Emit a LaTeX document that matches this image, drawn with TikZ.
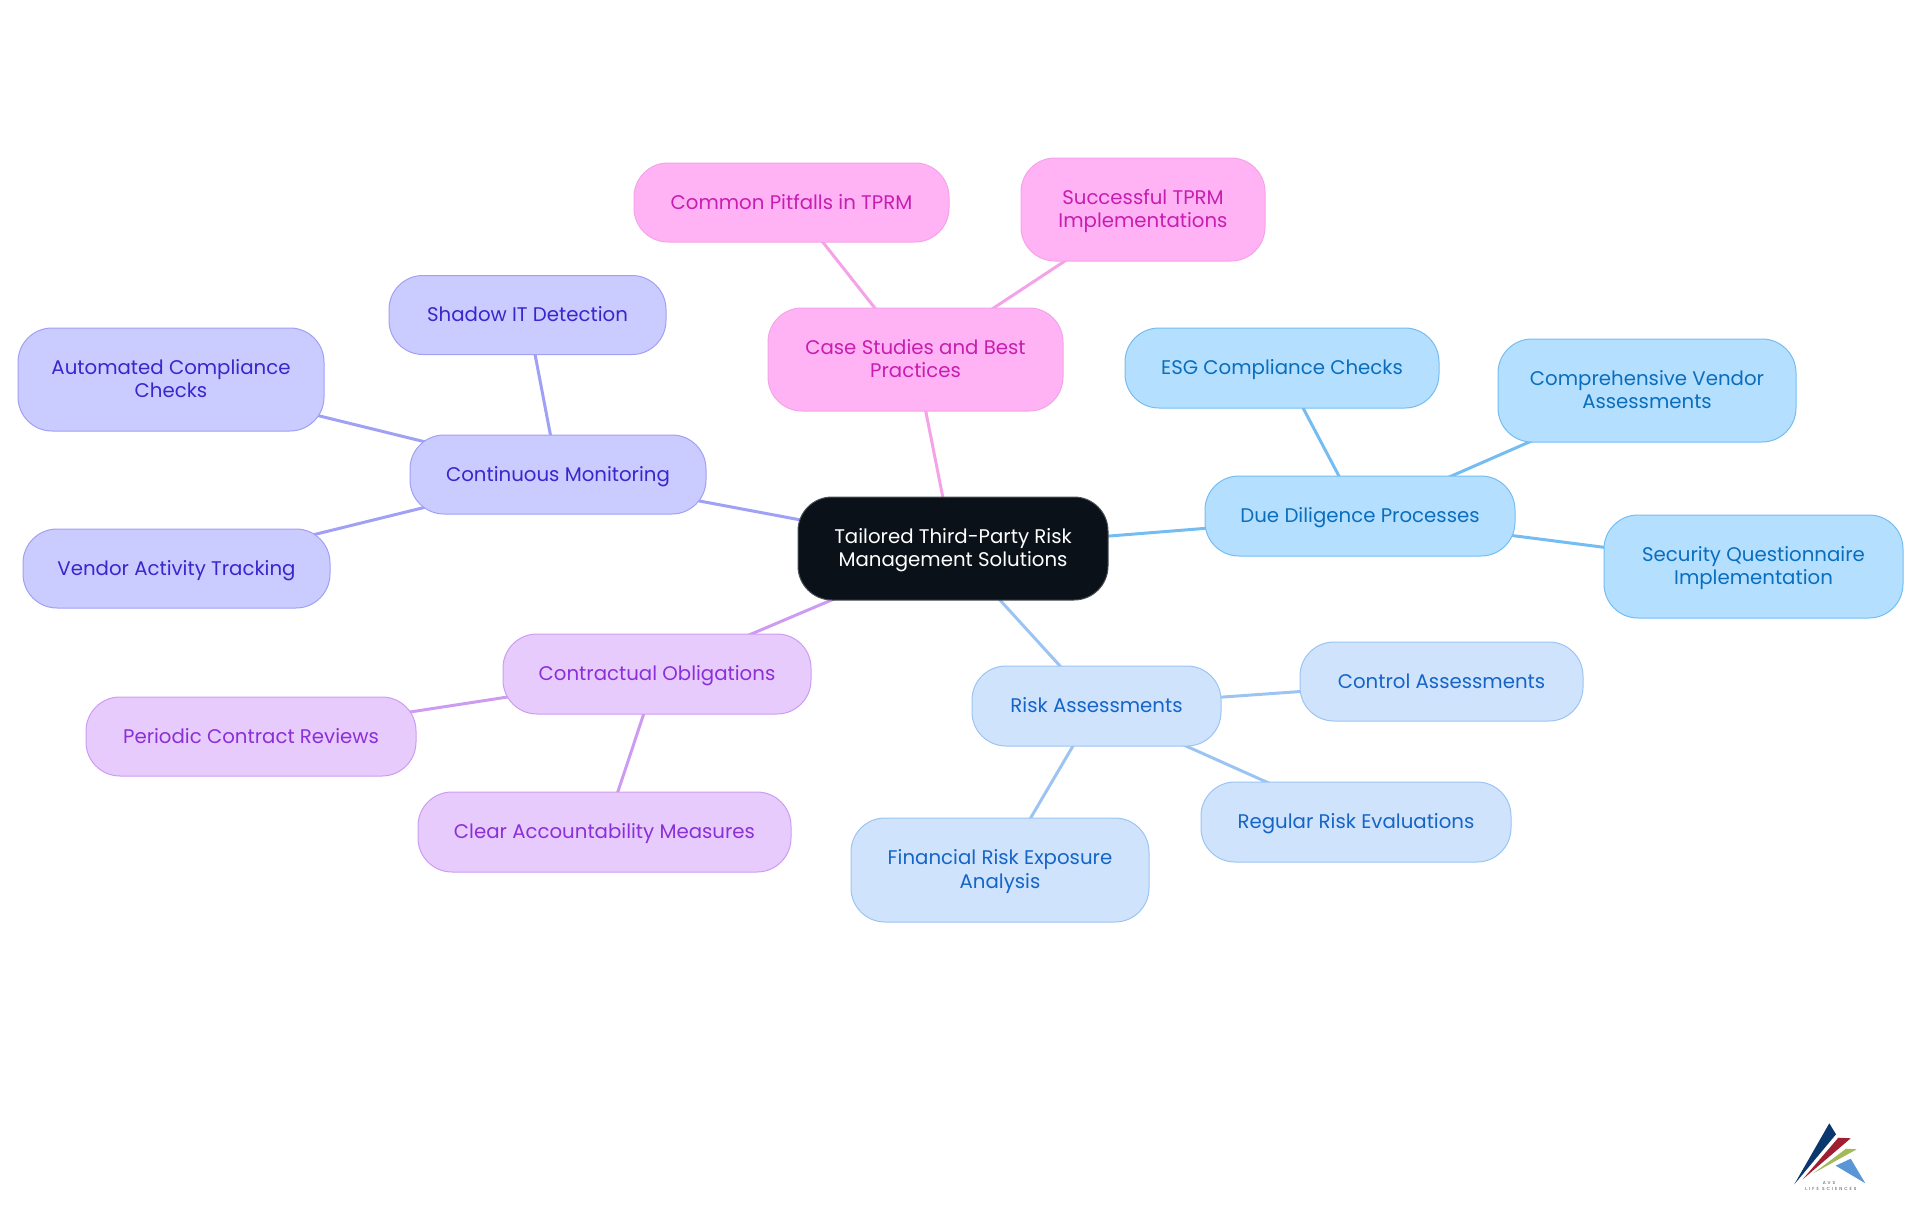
\documentclass[tikz,border=0pt]{standalone}
\usepackage{fontspec}
\setmainfont{Poppins}
\usetikzlibrary{backgrounds}
\definecolor{rootfill}{HTML}{0B1119}
\definecolor{rootline}{HTML}{4A4F55}
\definecolor{casefill}{HTML}{FFB3F5}
\definecolor{caseline}{HTML}{F5A3E8}
\definecolor{casetext}{HTML}{C81EB0}
\definecolor{duefill}{HTML}{B5DFFF}
\definecolor{dueline}{HTML}{74BDF2}
\definecolor{duetext}{HTML}{0A6EBD}
\definecolor{riskfill}{HTML}{CFE3FC}
\definecolor{riskline}{HTML}{9CC4F2}
\definecolor{risktext}{HTML}{1565C8}
\definecolor{confill}{HTML}{E8CBFD}
\definecolor{conline}{HTML}{CD9CF2}
\definecolor{context}{HTML}{8B2FD9}
\definecolor{monfill}{HTML}{CACCFF}
\definecolor{monline}{HTML}{A0A0F5}
\definecolor{montext}{HTML}{3B25CC}
\newcommand{\topstrutx}{\rule{0pt}{\dimexpr\ht\strutbox+4pt\relax}}
\tikzset{
  box/.style={rectangle,rounded corners=34pt,line width=1pt,align=center,inner sep=0pt,
    font=\fontsize{19.75}{23.5}\selectfont,
    execute at begin node={\topstrutx},execute at end node={\strut}},
  rootbox/.style={box,fill=rootfill,draw=rootline,text=white},
  casebox/.style={box,fill=casefill,draw=caseline,text=casetext},
  duebox/.style={box,fill=duefill,draw=dueline,text=duetext},
  riskbox/.style={box,fill=riskfill,draw=riskline,text=risktext},
  conbox/.style={box,fill=confill,draw=conline,text=context},
  monbox/.style={box,fill=monfill,draw=monline,text=montext},
  wh/.style 2 args={minimum width=#1pt,minimum height=#2pt},
  link/.style={line width=3pt},
  logotext/.style={font=\fontsize{4.4}{5}\selectfont\addfontfeature{LetterSpace=45},text=black!70,inner sep=0pt}
}
\begin{document}
\begin{tikzpicture}[x=1pt,y=-1pt]
\useasboundingbox (0,0) rectangle (1920,1215);
\node[rootbox,wh={310}{103}] (root) at (953,548.5) {\topstrutx Tailored Third-Party Risk\\Management Solutions};
\node[casebox,wh={295}{103}] (cs) at (915.5,359.5) {\topstrutx Case Studies and Best\\Practices};
\node[casebox,wh={315}{79}] (cp) at (791.5,202.5) {Common Pitfalls in TPRM};
\node[casebox,wh={244}{103}] (st) at (1143,209.5) {\topstrutx Successful TPRM\\Implementations};
\node[monbox,wh={296}{79}] (cm) at (558,474.5) {Continuous Monitoring};
\node[monbox,wh={277}{79}] (sh) at (527.5,315) {Shadow IT Detection};
\node[monbox,wh={306}{103}] (ac) at (171,379.5) {\topstrutx Automated Compliance\\Checks};
\node[monbox,wh={307}{79}] (va) at (176.5,568.5) {Vendor Activity Tracking};
\node[conbox,wh={308}{80}] (co) at (657,674) {Contractual Obligations};
\node[conbox,wh={330}{79}] (pr) at (251,736.5) {Periodic Contract Reviews};
\node[conbox,wh={373}{80}] (ca) at (604.5,832) {Clear Accountability Measures};
\node[riskbox,wh={249}{80}] (ra) at (1096.5,706) {Risk Assessments};
\node[riskbox,wh={283}{79}] (ct) at (1441.5,681.5) {Control Assessments};
\node[riskbox,wh={310}{80}] (re) at (1356,822) {Regular Risk Evaluations};
\node[riskbox,wh={298}{104}] (fr) at (1000,870) {\topstrutx Financial Risk Exposure\\Analysis};
\node[duebox,wh={310}{80}] (dd) at (1360,516) {Due Diligence Processes};
\node[duebox,wh={314}{80}] (es) at (1282,368) {ESG Compliance Checks};
\node[duebox,wh={298}{103}] (cv) at (1647,390.5) {\topstrutx Comprehensive Vendor\\Assessments};
\node[duebox,wh={299}{103}] (sq) at (1753.5,566.5) {\topstrutx Security Questionnaire\\Implementation};
\begin{scope}[on background layer]
\draw[link,draw=caseline] (root.center) -- (cs.center);
\draw[link,draw=caseline] (cs.center) -- (cp.center);
\draw[link,draw=caseline] (cs.center) -- (st.center);
\draw[link,draw=monline] (root.center) -- (cm.center);
\draw[link,draw=monline] (cm.center) -- (sh.center);
\draw[link,draw=monline] (cm.center) -- (ac.center);
\draw[link,draw=monline] (cm.center) -- (va.center);
\draw[link,draw=conline] (root.center) -- (co.center);
\draw[link,draw=conline] (co.center) -- (pr.center);
\draw[link,draw=conline] (co.center) -- (ca.center);
\draw[link,draw=riskline] (root.center) -- (ra.center);
\draw[link,draw=riskline] (ra.center) -- (ct.center);
\draw[link,draw=riskline] (ra.center) -- (re.center);
\draw[link,draw=riskline] (ra.center) -- (fr.center);
\draw[link,draw=dueline] (root.center) -- (dd.center);
\draw[link,draw=dueline] (dd.center) -- (es.center);
\draw[link,draw=dueline] (dd.center) -- (cv.center);
\draw[link,draw=dueline] (dd.center) -- (sq.center);
\end{scope}
% logo
\fill[fill={rgb,255:red,10;green,55;blue,110}] (1794.3,1184.3) -- (1829.3,1123.3) -- (1836,1134.3) -- cycle;
\fill[fill={rgb,255:red,160;green,30;blue,50}] (1802.7,1179.3) -- (1838.3,1137.7) -- (1850.7,1138.3) -- cycle;
\fill[fill={rgb,255:red,165;green,185;blue,90}] (1813.3,1173.3) -- (1846,1148.7) -- (1856.7,1149.3) -- cycle;
\fill[fill={rgb,255:red,90;green,150;blue,215}] (1835.7,1165.7) -- (1850.7,1158.7) -- (1865.3,1183.3) -- cycle;
\node[logotext] (avs) at (1829,1182.5) {AVS};
\node[logotext] (ls) at (1831,1189) {LIFE SCIENCES};
\end{tikzpicture}
\end{document}
